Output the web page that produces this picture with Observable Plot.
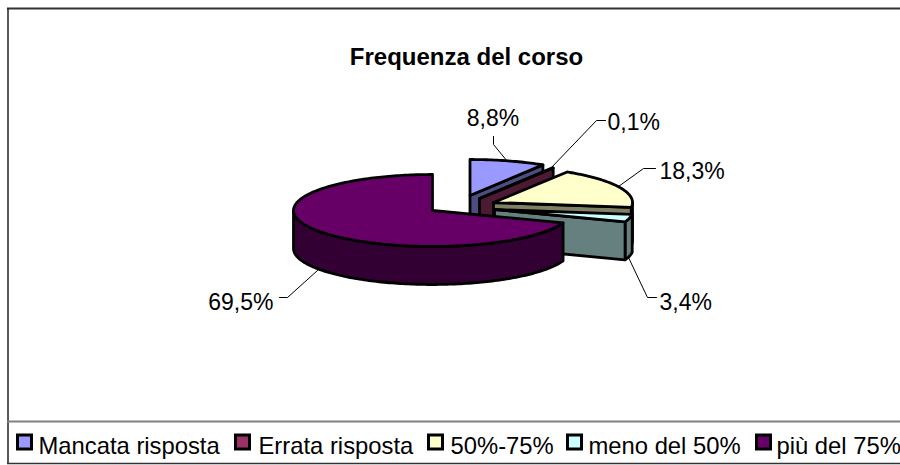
<!DOCTYPE html>
<html>
<head>
<meta charset="utf-8">
<script src="https://cdn.jsdelivr.net/npm/d3@7"></script>
<script src="https://cdn.jsdelivr.net/npm/@observablehq/plot@0.6"></script>
<style>html,body{margin:0;padding:0;background:#fff}svg{display:block}</style>
</head>
<body>
<div id="chart"></div>
<script>
const categories = ["Mancata risposta", "Errata risposta", "50%-75%", "meno del 50%", "più del 75%"];
const values = [8.8, 0.1, 18.3, 3.4, 69.5];
const topColors = ["#9999ff", "#993366", "#ffffcc", "#ccffff", "#660066"];
const wallColors = ["#4d4d80", "#4d1a33", "#808066", "#668080", "#330033"];

// pie layout
const rx = 139, ry = 36, depth = 38;
const apexX = [469.5, 479, 493, 494, 432];
const apexY = [195, 198, 202, 209, 210];
const legendX = [17.5, 235.5, 428.5, 567.5, 756.5];
const legendTextX = [38, 258, 450, 588, 776];

const fmt = v => v.toFixed(1).replace(".", ",") + "%";
const total = d3.sum(values);
const rad = p => p / total * 2 * Math.PI;
let cum = 0;
const slices = values.map((v, i) => {
  const a0 = rad(cum); cum += v; const a1 = rad(cum);
  return {i, a0, a1, cx: apexX[i], cy: apexY[i]};
});
const pt = (s, a, dz = 0) => ({x: s.cx + rx * Math.sin(a), y: s.cy - ry * Math.cos(a) + dz});
const arc = (s, a0, a1, dz = 0) => {
  const n = Math.max(2, Math.ceil(Math.abs(a1 - a0) / 0.02));
  return d3.range(n + 1).map(k => pt(s, a0 + (a1 - a0) * k / n, dz));
};

const polys = [];
for (const s of slices) {
  const lo = Math.max(s.a0, Math.PI / 2), hi = Math.min(s.a1, 1.5 * Math.PI);
  if (hi > lo) polys.push({pts: [...arc(s, lo, hi), ...arc(s, hi, lo, depth)], fill: wallColors[s.i]});
  if (s.a1 < Math.PI) {
    const e = pt(s, s.a1), f = pt(s, s.a1, depth);
    polys.push({pts: [{x: s.cx, y: s.cy}, e, f, {x: s.cx, y: s.cy + depth}], fill: wallColors[s.i]});
  }
  polys.push({pts: [{x: s.cx, y: s.cy}, ...arc(s, s.a0, s.a1)], fill: topColors[s.i]});
}

const labelRows = [
  {t: fmt(values[0]), x: 492.5, y: 118, a: "middle"},
  {t: fmt(values[1]), x: 607, y: 122, a: "start"},
  {t: fmt(values[2]), x: 659, y: 171, a: "start"},
  {t: fmt(values[3]), x: 659, y: 302, a: "start"},
  {t: fmt(values[4]), x: 273, y: 302, a: "end"}
];
const leaders = [
  [[493, 136], [493, 144], [507, 161]],
  [[605, 120], [596, 120], [550, 168]],
  [[655, 168], [643, 168], [618, 186]],
  [[656, 297], [647, 297], [628, 257]],
  [[279, 297], [287, 297], [317, 270]]
];

const font = "'Liberation Sans', Arial, sans-serif";
const legendRows = categories.map((c, i) => ({c, i}));

const chart = Plot.plot({
  width: 900, height: 465,
  marginTop: 0, marginRight: 0, marginBottom: 0, marginLeft: 0,
  x: {domain: [0, 900], range: [0, 900], axis: null},
  y: {domain: [0, 465], range: [0, 465], axis: null},
  color: {type: "identity"},
  style: {fontFamily: font, background: "#fff"},
  marks: [
    Plot.ruleY([8], {x1: 7, x2: 900, stroke: "#333", strokeWidth: 2}),
    Plot.ruleX([7.5], {y1: 8, y2: 463, stroke: "#222", strokeWidth: 1.5}),
    Plot.ruleY([463], {x1: 7, x2: 900, stroke: "#333", strokeWidth: 1.5}),
    Plot.ruleY([421], {x1: 7, x2: 900, stroke: "#808080", strokeWidth: 2}),
    Plot.text(["Frequenza del corso"], {x: 466, y: 57, text: d => d, fontSize: 24, fontWeight: "bold", fill: "#000"}),
    ...leaders.map(l => Plot.line(l, {x: d => d[0], y: d => d[1], stroke: "#000", strokeWidth: 1})),
    ...polys.map(p => Plot.line(p.pts, {
      x: "x", y: "y", fill: p.fill, stroke: "#000", strokeWidth: 2.8,
      curve: "linear-closed", strokeLinejoin: "round"
    })),
    Plot.text(labelRows, {x: "x", y: "y", text: "t", textAnchor: "start", filter: d => d.a === "start", fontSize: 23, fill: "#000"}),
    Plot.text(labelRows, {x: "x", y: "y", text: "t", textAnchor: "middle", filter: d => d.a === "middle", fontSize: 23, fill: "#000"}),
    Plot.text(labelRows, {x: "x", y: "y", text: "t", textAnchor: "end", filter: d => d.a === "end", fontSize: 23, fill: "#000"}),
    Plot.rect(legendRows, {
      x1: d => legendX[d.i], x2: d => legendX[d.i] + 14,
      y1: 435, y2: 449,
      fill: d => topColors[d.i], stroke: "#000", strokeWidth: 3
    }),
    Plot.text(legendRows, {x: d => legendTextX[d.i], y: 446, text: "c", textAnchor: "start", fontSize: 23.8, fill: "#000"})
  ]
});
document.getElementById("chart").append(chart);
</script>
</body>
</html>
